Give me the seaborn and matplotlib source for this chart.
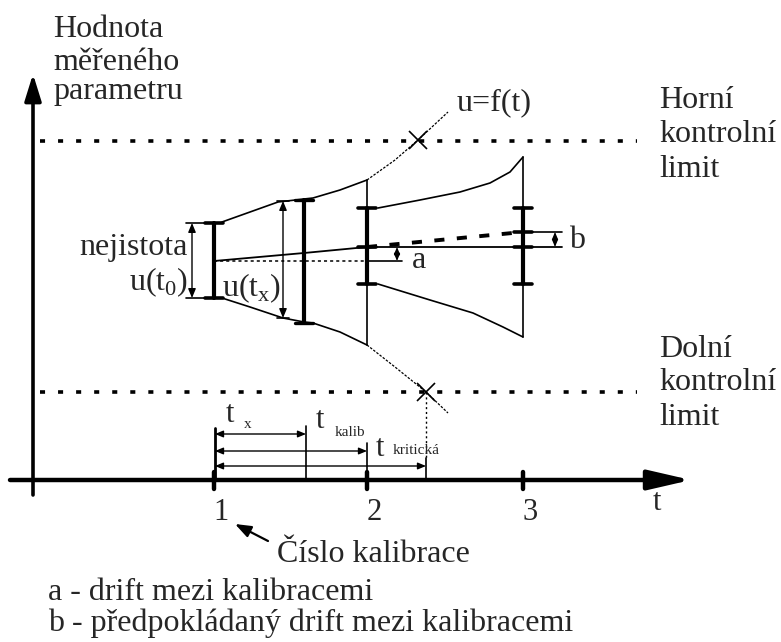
import matplotlib
matplotlib.use('Agg')
import matplotlib.pyplot as plt
import seaborn as sns

sns.set_theme(style='white')
plt.rcParams['font.family'] = ['Liberation Serif', 'DejaVu Serif']
plt.rcParams['mathtext.fontset'] = 'custom'
plt.rcParams['mathtext.rm'] = 'Liberation Serif'

# ---------------- data (diagram units, y grows downward) ----------------
calib_x = [214, 367, 523]
calib_labels = ['1', '2', '3']
bar_top = [223, 208, 208]
bar_bot = [298, 284, 284]

tx_x = 304          # time t_x
tx_thin_x = 283     # u(t_x) arrow
tx_top, tx_bot = 200, 323
tcrit_x = 426

limit_y = [141, 392]
limit_x = [40, 637]

upper1_x = [222, 250, 278, 304, 313, 340, 367]
upper1_y = [222, 212, 202, 199, 198, 190, 180]
lower1_x = [222, 250, 283, 304, 313, 340, 367]
lower1_y = [298, 307, 318, 322, 323, 332, 345]

fup_x = [367, 395, 418, 448]
fup_y = [180, 160, 140, 112]
flo_x = [367, 395, 426, 448]
flo_y = [345, 367, 392, 413]

upper2_x = [378, 420, 460, 490, 510, 523]
upper2_y = [208, 200, 192, 183, 172, 157]
lower2_x = [378, 430, 473, 503, 523]
lower2_y = [284, 300, 313, 327, 337]

center_x = [214, 304, 367, 523, 562]
center_y = [261, 253, 247, 247, 247]
base_y = 261
pred_x = [367, 523]
pred_y = [247, 232]

# ---------------- figure ----------------
fig = plt.figure(figsize=(7.81, 6.42), dpi=100)
ax = fig.add_axes([0, 0, 1, 1])
K = 'black'


def line(xs, ys, lw=1.2, ls='-', **kw):
    sns.lineplot(x=xs, y=ys, ax=ax, sort=False, estimator=None,
                 color=K, linewidth=lw, linestyle=ls, **kw)


def darrow(x0, y0, x1, y1, ms=9, lw=1.0):
    ax.annotate('', xy=(x1, y1), xytext=(x0, y0),
                arrowprops=dict(arrowstyle='<|-|>,head_length=0.6,head_width=0.25',
                                color=K, lw=lw, mutation_scale=ms,
                                shrinkA=0, shrinkB=0))


def sarrow(x0, y0, x1, y1, ms=20, lw=3, hl=0.8, hw=0.3):
    ax.annotate('', xy=(x1, y1), xytext=(x0, y0),
                arrowprops=dict(arrowstyle=f'-|>,head_length={hl},head_width={hw}',
                                color=K, lw=lw, mutation_scale=ms,
                                shrinkA=0, shrinkB=0))

# axes
sarrow(33, 495, 33, 74, ms=18, lw=2.6, hl=0.9, hw=0.28)
sarrow(10, 480, 691, 480, ms=20, lw=3.2, hl=1.3, hw=0.3)
for cx in calib_x:
    line([cx, cx], [472, 489], lw=3.2)
for cx, lab in zip(calib_x, calib_labels):
    ax.text(cx + 7, 512, lab, fontsize=22, ha='center', va='center')
ax.text(657, 502, 't', fontsize=22, ha='center', va='center')

# control limits
for ly in limit_y:
    line(limit_x, [ly, ly], lw=2.6, ls=(0, (1.4, 3.6)))

# trumpet 1
line(upper1_x, upper1_y)
line(lower1_x, lower1_y)
line(fup_x, fup_y, lw=0.9, ls=(0, (2, 1.2)))
line(flo_x, flo_y, lw=0.9, ls=(0, (2, 1.2)))
ax.plot([418], [140], marker='x', color=K, ms=13, mew=1.2)
ax.plot([426], [392], marker='x', color=K, ms=13, mew=1.2)

# trumpet 2
line(upper2_x, upper2_y)
line(lower2_x, lower2_y)

# calibration bars
for cx, bt, bb in zip(calib_x, bar_top, bar_bot):
    line([cx, cx], [bt, bb], lw=3.0)
    line([cx - 9, cx + 9], [bt, bt], lw=2.6)
    line([cx - 9, cx + 9], [bb, bb], lw=2.6)
# thin verticals at calibrations 2 and 3 spanning the envelopes
line([calib_x[1]] * 2, [180, 345], lw=1.2)
line([calib_x[2]] * 2, [157, 337], lw=1.2)
# middle ticks
line([calib_x[1] - 9, calib_x[1] + 9], [247, 247], lw=2.6)
line([calib_x[2] - 9, calib_x[2] + 9], [247, 247], lw=2.6)
line([calib_x[2] - 9, calib_x[2] + 9], [232, 232], lw=2.6)

# calibration 1 extra caps and nejistota arrow
line([186, 214], [bar_top[0]] * 2, lw=1.2)
line([186, 214], [bar_bot[0]] * 2, lw=1.2)
darrow(192, bar_top[0], 192, bar_bot[0])

# t_x bars
line([tx_x, tx_x], [tx_top, tx_bot], lw=3.0)
line([tx_x - 9, tx_x + 9], [tx_top, tx_top], lw=2.4)
line([tx_x - 9, tx_x + 9], [tx_bot, tx_bot], lw=2.4)
line([tx_thin_x - 6, tx_thin_x + 6], [201, 201], lw=1.2)
line([tx_thin_x - 6, tx_thin_x + 6], [318, 318], lw=1.2)
darrow(tx_thin_x, 201, tx_thin_x, 318)

# centre line and drifts
line(center_x, center_y, lw=1.3)
line([214, 367], [base_y, base_y], lw=1.1, ls=(0, (2, 2)))
line([367, 402], [base_y, base_y], lw=1.2)
darrow(397, 247, 397, base_y, ms=7)
line(pred_x, pred_y, lw=2.8, ls=(0, (2.6, 3.2)))
line([523, 562], [232, 232], lw=1.2)
darrow(555, 232, 555, 247, ms=7)

# time intervals
line([215, 215], [428, 480], lw=2.0)
line([tx_x + 2, tx_x + 2], [426, 480], lw=1.2)
line([367, 367], [443, 480], lw=1.2)
line([tcrit_x, tcrit_x], [458, 480], lw=1.2)
line([tcrit_x, tcrit_x], [392, 458], lw=1.0, ls=(0, (1.5, 2)))
darrow(215, 434, tx_x + 2, 434, ms=8)
darrow(215, 451, 367, 451, ms=8)
darrow(215, 466, tcrit_x, 466, ms=8)

# texts
TF = 23
for txt, yb in [('Hodnota', 37), ('měřeného', 70), ('parametru', 99)]:
    ax.text(53, yb, txt, fontsize=TF, ha='left', va='baseline')
for txt, yb in [('Horní', 108), ('kontrolní', 142), ('limit', 177),
                ('Dolní', 357), ('kontrolní', 390), ('limit', 425)]:
    ax.text(659, yb, txt, fontsize=TF, ha='left', va='baseline')
ax.text(457, 103, 'u=f(t)', fontsize=TF, ha='left', va='center')
ax.text(188, 247, 'nejistota', fontsize=TF, ha='right', va='center')
ax.text(188, 282, r'u(t$_\mathregular{0}$)', fontsize=TF, ha='right', va='center')
ax.text(222, 288, r'u(t$_\mathregular{x}$)', fontsize=TF, ha='left', va='center')
ax.text(412, 260, 'a', fontsize=TF, ha='left', va='center')
ax.text(569, 240, 'b', fontsize=TF, ha='left', va='center')

ax.text(230, 415, 't', fontsize=22, ha='center', va='center')
ax.text(248, 425, 'x', fontsize=11, ha='center', va='center')
ax.text(320, 420, 't', fontsize=22, ha='center', va='center')
ax.text(335, 432, 'kalib', fontsize=11, ha='left', va='center')
ax.text(380, 449, 't', fontsize=22, ha='center', va='center')
ax.text(393, 451, 'kritická', fontsize=11, ha='left', va='center')

ax.annotate('', xy=(235, 524), xytext=(268, 541),
            arrowprops=dict(arrowstyle='-|>,head_length=0.8,head_width=0.3',
                            color=K, lw=1.6, mutation_scale=12,
                            shrinkA=0, shrinkB=0))
ax.text(277, 555, 'Číslo kalibrace', fontsize=TF, ha='left', va='center')
ax.text(48, 593, 'a - drift mezi kalibracemi', fontsize=TF, ha='left', va='center')
ax.text(48, 623, 'b - předpokládaný drift mezi kalibracemi', fontsize=TF,
        ha='left', va='center')

ax.set_xlim(0, 781)
ax.set_ylim(642, 0)
ax.axis('off')
fig.savefig('out.png', dpi=100)
